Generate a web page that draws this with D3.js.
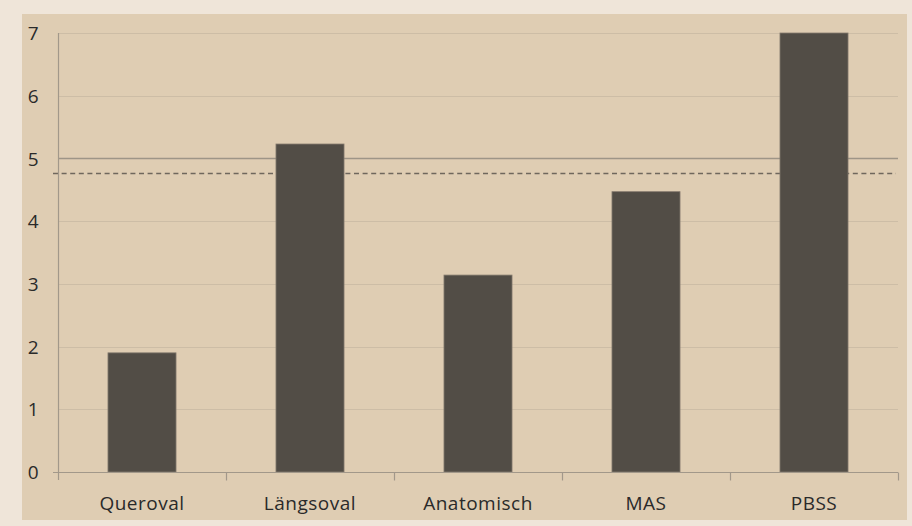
<!DOCTYPE html>
<html>
<head>
<meta charset="utf-8">
<script src="https://cdn.jsdelivr.net/npm/d3@7"></script>
<style>
  html, body { margin: 0; padding: 0; background: #efe5d9; }
  svg { display: block; }
</style>
</head>
<body>
<svg id="chart" width="912" height="526"></svg>
<script>
// Chart data
const categories = ["Queroval", "Längsoval", "Anatomisch", "MAS", "PBSS"];
const values = [1.9, 5.23, 3.14, 4.47, 7.0];
const yTicks = [0, 1, 2, 3, 4, 5, 6, 7];
const referenceLine = [4.77];   // dashed reference level
const emphasisTick = [5];       // gridline drawn darker

const svg = d3.select("#chart");
const W = 912, H = 526;

// outer page and chart panel
svg.append("rect").attr("width", W).attr("height", H).attr("fill", "#efe5d9");
svg.append("rect")
  .attr("x", 22).attr("y", 14).attr("width", 885).attr("height", 506)
  .attr("fill", "#dfcdb3");

const plot = { left: 58, right: 898, top: 33, bottom: 472 };

const x = d3.scaleBand()
  .domain(categories)
  .range([plot.left, plot.right])
  .paddingInner(0.595)
  .paddingOuter(0.2975);

const y = d3.scaleLinear().domain([0, 7]).range([plot.bottom, plot.top]);

const font = "'Open Sans', sans-serif";

// horizontal gridlines
svg.append("g")
  .selectAll("line")
  .data(yTicks.filter(t => t > 0))
  .join("line")
  .attr("x1", plot.left).attr("x2", plot.right)
  .attr("y1", d => Math.round(y(d)) + 0.5).attr("y2", d => Math.round(y(d)) + 0.5)
  .attr("stroke", d => emphasisTick.includes(d) ? "#9e9587" : "#cdbda6")
  .attr("stroke-width", d => emphasisTick.includes(d) ? 1.3 : 1.2);

// dashed reference line
svg.append("g")
  .selectAll("line")
  .data(referenceLine)
  .join("line")
  .attr("x1", plot.left - 5).attr("x2", plot.right - 2)
  .attr("y1", d => Math.round(y(d)) + 0.5).attr("y2", d => Math.round(y(d)) + 0.5)
  .attr("stroke", "#6f675d")
  .attr("stroke-width", 1.3)
  .attr("stroke-dasharray", "5,3.6");

// bars
svg.append("g")
  .selectAll("rect")
  .data(values)
  .join("rect")
  .attr("x", (d, i) => x(categories[i]))
  .attr("width", x.bandwidth())
  .attr("y", d => y(d))
  .attr("height", d => y(0) - y(d))
  .attr("fill", "#524d46")
  .attr("stroke", "#857b6f")
  .attr("stroke-width", 0.8);

// y axis
const yAxis = d3.axisLeft(y).tickValues(yTicks).tickSize(0).tickPadding(20).tickFormat(d3.format("d"));
const gy = svg.append("g").attr("transform", `translate(${plot.left + 0.5},0)`).call(yAxis);
gy.select(".domain").remove();
gy.append("line")
  .attr("x1", 0).attr("x2", 0)
  .attr("y1", plot.top).attr("y2", plot.bottom + 8)
  .attr("stroke", "#a2988a").attr("stroke-width", 1.2);
gy.selectAll(".tick text")
  .attr("font-family", font).attr("font-size", 19).attr("fill", "#2a2a2a")
  .attr("dy", "0.35em");

// x axis
const xAxis = d3.axisBottom(x).tickSize(0).tickPadding(24);
const gx = svg.append("g").attr("transform", `translate(0,${plot.bottom + 0.5})`).call(xAxis);
gx.select(".domain").remove();
gx.append("line")
  .attr("x1", plot.left - 5).attr("x2", plot.right)
  .attr("y1", 0).attr("y2", 0)
  .attr("stroke", "#a2988a").attr("stroke-width", 1.2);
// category separator ticks
const bounds = categories.map((c, i) => plot.left + i * (plot.right - plot.left) / categories.length).concat([plot.right]);
gx.append("g").selectAll("line")
  .data(bounds.slice(1))
  .join("line")
  .attr("x1", d => Math.round(d) + 0.5).attr("x2", d => Math.round(d) + 0.5)
  .attr("y1", 0).attr("y2", 8)
  .attr("stroke", "#a2988a").attr("stroke-width", 1.2);
gx.selectAll(".tick text")
  .attr("font-family", font).attr("font-size", 19).attr("fill", "#2a2a2a")
  .attr("letter-spacing", "0.5px");
</script>
</body>
</html>
